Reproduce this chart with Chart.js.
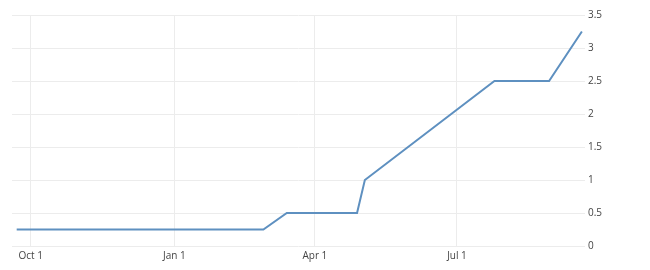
<!DOCTYPE html>
<html>
<head>
<meta charset="utf-8">
<script src="https://cdn.jsdelivr.net/npm/chart.js@4/dist/chart.umd.min.js"></script>
<style>
  html, body { margin: 0; padding: 0; background: #fff; }
  #wrap { width: 650px; height: 270px; position: relative; }
</style>
</head>
<body>
<div id="wrap"><canvas id="rateChart"></canvas></div>
<script>
// points of the rate line (date, value)
const dates = ['2021-09-22', '2022-02-27', '2022-03-14', '2022-04-28', '2022-05-03', '2022-07-25', '2022-08-29', '2022-09-19'];
const rates = [0.25, 0.25, 0.5, 0.5, 1, 2.5, 2.5, 3.25];

// x axis ticks
const tickDates = ['2021-10-01', '2022-01-01', '2022-04-01', '2022-07-01'];
const tickLabels = ['Oct 1', 'Jan 1', 'Apr 1', 'Jul 1'];

const toMs = (s) => {
    const p = s.split('-');
    return Date.UTC(+p[0], +p[1] - 1, +p[2]);
};

const DAY = 86400000;
const xMin = toMs('2021-10-01') - 12 * DAY;
const xMax = toMs('2021-10-01') + 355 * DAY;

const ctx = document.getElementById('rateChart');

new Chart(ctx, {
    type: 'line',
    data: {
        datasets: [{
            data: dates.map((d, i) => ({ x: toMs(d), y: rates[i] })),
            borderColor: '#5e90c0',
            borderWidth: 2,
            pointRadius: 0,
            tension: 0,
            fill: false
        }]
    },
    options: {
        responsive: true,
        maintainAspectRatio: false,
        animation: false,
        layout: {
            padding: { left: 12, top: 15, right: 0, bottom: 0 }
        },
        plugins: {
            legend: { display: false },
            tooltip: { enabled: false }
        },
        scales: {
            x: {
                type: 'linear',
                min: xMin,
                max: xMax,
                afterBuildTicks: (scale) => {
                    scale.ticks = tickDates.map(d => ({ value: toMs(d) }));
                },
                afterFit: (scale) => { scale.height = 24; },
                ticks: {
                    autoSkip: false,
                    maxRotation: 0,
                    padding: 4,
                    color: '#444',
                    font: { family: 'Open Sans', size: 10 },
                    callback: (v, i) => tickLabels[i]
                },
                grid: { color: '#ececec', drawTicks: false },
                border: { display: false }
            },
            y: {
                position: 'right',
                min: 0,
                max: 3.5,
                afterFit: (scale) => { scale.width = 65; },
                ticks: {
                    stepSize: 0.5,
                    padding: 3,
                    color: '#444',
                    font: { family: 'Open Sans', size: 10 },
                    callback: (v) => String(v)
                },
                grid: { color: '#ececec', drawTicks: false },
                border: { display: false }
            }
        }
    }
});
</script>
</body>
</html>
